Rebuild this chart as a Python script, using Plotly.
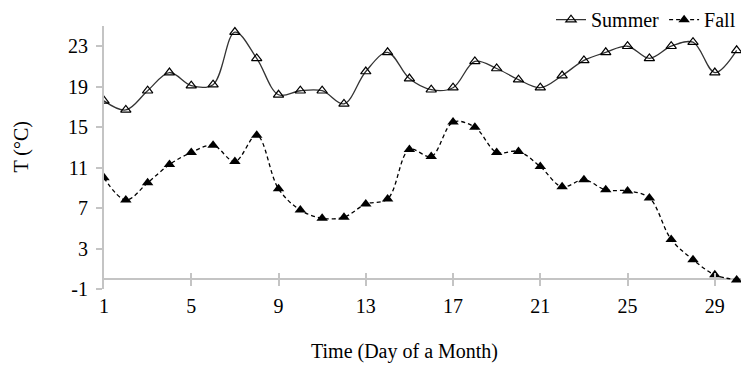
import plotly.graph_objects as go

days = list(range(1, 31))
summer = [17.6, 16.7, 18.6, 20.4, 19.1, 19.2, 24.4, 21.8, 18.2, 18.6,
          18.6, 17.3, 20.5, 22.4, 19.8, 18.7, 18.9, 21.5, 20.8, 19.7,
          18.9, 20.1, 21.6, 22.4, 23.0, 21.8, 23.0, 23.4, 20.4, 22.6]
fall = [10.0, 7.8, 9.5, 11.3, 12.5, 13.2, 11.6, 14.2, 8.9, 6.8,
        6.0, 6.1, 7.4, 7.9, 12.8, 12.1, 15.5, 15.0, 12.5, 12.6,
        11.1, 9.1, 9.8, 8.8, 8.7, 8.0, 3.9, 1.9, 0.4, -0.1]
x_ticks = [1, 5, 9, 13, 17, 21, 25, 29]
y_ticks = [-1, 3, 7, 11, 15, 19, 23]
y_tick_text = ["-1", "3", "7", "11", "15", "19", "23"]

FONT = "Liberation Serif, Times New Roman, serif"
AX = "#c4c4c4"

fig = go.Figure()
fig.add_trace(go.Scatter(
    x=days, y=summer, name="Summer", mode="lines+markers",
    line=dict(color="#333333", width=1.3, shape="spline", smoothing=1),
    marker=dict(symbol="triangle-up-open", size=9, color="#000000",
                line=dict(width=1.2, color="#000000")),
))
fig.add_trace(go.Scatter(
    x=days, y=fall, name="Fall", mode="lines+markers",
    line=dict(color="#000000", width=1.3, dash="4px,3px", shape="spline", smoothing=1),
    marker=dict(symbol="triangle-up", size=10, color="#000000"),
))

fig.update_layout(
    width=742, height=369,
    margin=dict(l=104, r=1, t=25, b=80),
    paper_bgcolor="white", plot_bgcolor="white",
    font=dict(family=FONT, size=20, color="#000000"),
    showlegend=True,
    legend=dict(orientation="h", xref="paper", yref="paper",
                x=1.0, xanchor="right", y=1.094, yanchor="top",
                font=dict(family=FONT, size=20, color="#000000"),
                bgcolor="rgba(0,0,0,0)", tracegroupgap=0),
    xaxis=dict(range=[1, 30.2], tickmode="array", tickvals=x_ticks,
               anchor="free", position=0.3 / 26,
               showline=False, showgrid=False, zeroline=False,
               ticks="inside", ticklen=13, tickwidth=2, tickcolor=AX,
               ticklabelstandoff=6,
               tickfont=dict(family=FONT, size=20, color="#000000")),
    yaxis=dict(range=[-1, 25], tickmode="array", tickvals=y_ticks, ticktext=y_tick_text,
               showline=True, linecolor=AX, linewidth=2,
               showgrid=False, zeroline=True, zerolinecolor=AX, zerolinewidth=2,
               ticks="outside", ticklen=6, tickwidth=2, tickcolor=AX,
               ticklabelstandoff=4,
               tickfont=dict(family=FONT, size=20, color="#000000")),
    yaxis2=dict(range=[-1, 25], matches="y", overlaying="y", side="left", anchor="x",
                tickmode="array", tickvals=y_ticks,
                showline=False, showgrid=False, zeroline=False,
                ticks="inside", ticklen=6, tickwidth=2, tickcolor=AX,
                showticklabels=False),
    annotations=[
        dict(text="Time (Day of a Month)", xref="paper", yref="paper",
             x=(404 - 104) / 637, y=(289 - 352) / 264, xanchor="center", yanchor="middle",
             showarrow=False, font=dict(family=FONT, size=20, color="#000000")),
        dict(text="T (°C)", xref="paper", yref="paper", textangle=-90,
             x=(22 - 104) / 637, y=(289 - 146) / 264, xanchor="center", yanchor="middle",
             showarrow=False, font=dict(family=FONT, size=20, color="#000000")),
    ],
)

fig.write_html("out.html", config={"displayModeBar": False},
               post_script="document.body.style.margin='0';")
